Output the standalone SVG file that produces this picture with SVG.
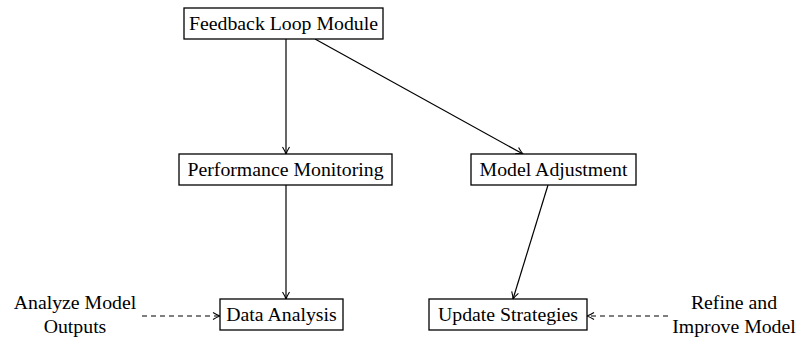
<svg xmlns="http://www.w3.org/2000/svg" width="798" height="341" viewBox="0 0 798 341">
  <style>
    .box { fill: #ffffff; stroke: #000000; stroke-width: 1.3; }
    .lbl { font-family: "Liberation Serif", "DejaVu Serif", serif; font-size: 19.8px; fill: #000000; text-anchor: middle; }
    .edge { fill: none; stroke: #000000; stroke-width: 1.2; }
    .dash { stroke-dasharray: 5 4; }
  </style>
  <defs>
    <marker id="tip" viewBox="0 0 10 10" refX="9" refY="5" markerWidth="10" markerHeight="10" markerUnits="userSpaceOnUse" orient="auto">
      <path d="M2,1.5 Q6,4 9,5 Q6,6 2,8.5" fill="none" stroke="#000" stroke-width="1.1"/>
    </marker>
  </defs>
  <rect width="798" height="341" fill="#ffffff"/>

  <g id="connectors">
    <line class="edge" x1="286" y1="39" x2="286" y2="154" marker-end="url(#tip)"/>
    <line class="edge" x1="315" y1="39" x2="523" y2="154" marker-end="url(#tip)"/>
    <line class="edge" x1="286" y1="185" x2="286" y2="299" marker-end="url(#tip)"/>
    <line class="edge" x1="548" y1="185" x2="513" y2="299" marker-end="url(#tip)"/>
    <line class="edge dash" x1="142" y1="316" x2="220" y2="316" marker-end="url(#tip)"/>
    <line class="edge dash" x1="668" y1="316" x2="587" y2="316" marker-end="url(#tip)"/>
  </g>

  <g id="feedback-loop-module">
    <rect class="box" x="184" y="8" width="199" height="31"/>
    <text class="lbl" x="283.5" y="30">Feedback Loop Module</text>
  </g>
  <g id="performance-monitoring">
    <rect class="box" x="179" y="154" width="213" height="31"/>
    <text class="lbl" x="285.5" y="176">Performance Monitoring</text>
  </g>
  <g id="model-adjustment">
    <rect class="box" x="471" y="154" width="165" height="31"/>
    <text class="lbl" x="553.5" y="176">Model Adjustment</text>
  </g>
  <g id="data-analysis">
    <rect class="box" x="220" y="299" width="123" height="31"/>
    <text class="lbl" x="281.5" y="321">Data Analysis</text>
  </g>
  <g id="update-strategies">
    <rect class="box" x="429" y="299" width="158" height="31"/>
    <text class="lbl" x="508" y="321">Update Strategies</text>
  </g>
  <g id="analyze-model-outputs">
    <text class="lbl" x="75" y="309">Analyze Model</text>
    <text class="lbl" x="75" y="333">Outputs</text>
  </g>
  <g id="refine-and-improve-model">
    <text class="lbl" x="734" y="309">Refine and</text>
    <text class="lbl" x="734" y="333">Improve Model</text>
  </g>
</svg>
